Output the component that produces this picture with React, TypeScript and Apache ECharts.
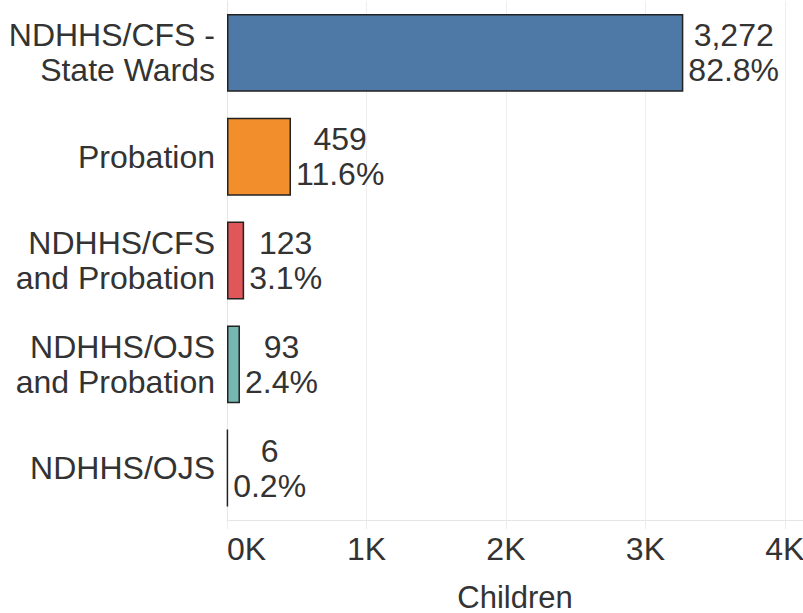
import React, { useEffect, useRef } from "react";
import * as echarts from "echarts";

const categories = [
  "NDHHS/CFS -\nState Wards",
  "Probation",
  "NDHHS/CFS\nand Probation",
  "NDHHS/OJS\nand Probation",
  "NDHHS/OJS",
];
const values = [3272, 459, 123, 93, 6];
const percents = ["82.8%", "11.6%", "3.1%", "2.4%", "0.2%"];
const barColors = ["#4e79a7", "#f28e2b", "#e15759", "#76b7b2", "#59a14f"];
const xTicks = [0, 1000, 2000, 3000, 4000];

const FONT = "Arial, 'Liberation Sans', sans-serif";
const TEXT = "#333333";
const FS = 32;

export default function App() {
  const ref = useRef<HTMLDivElement>(null);
  useEffect(() => {
    if (!ref.current) return;
    const chart = echarts.init(ref.current, undefined, {
      renderer: "svg",
      width: 803,
      height: 613,
    });
    chart.setOption({
      animation: false,
      backgroundColor: "#ffffff",
      textStyle: { fontFamily: FONT },
      grid: {
        left: 227,
        right: 0,
        top: 1,
        bottom: 93,
        containLabel: false,
        outerBoundsMode: "none",
      },
      xAxis: {
        type: "value",
        min: 0,
        max: 4130,
        interval: 1000,
        name: "Children",
        nameLocation: "middle",
        nameGap: 64,
        nameTextStyle: {
          fontSize: 31,
          lineHeight: 26,
          color: TEXT,
          fontFamily: FONT,
        },
        axisLine: { show: true, lineStyle: { color: "#e6e6e6", width: 1 } },
        axisTick: { show: true, length: 9, lineStyle: { color: "#ececec" } },
        splitLine: { show: true, lineStyle: { color: "#efefef", width: 1 } },
        axisLabel: {
          fontSize: FS,
          color: TEXT,
          fontFamily: FONT,
          margin: 13,
          alignMinLabel: "left",
          formatter: (v: number) =>
            xTicks.indexOf(v) >= 0 ? `${v / 1000}K` : "",
        },
      },
      yAxis: {
        type: "category",
        inverse: true,
        data: categories,
        axisLine: { show: true, lineStyle: { color: "#e6e6e6", width: 1 } },
        axisTick: { show: false },
        axisLabel: {
          fontSize: FS,
          lineHeight: 35,
          color: TEXT,
          fontFamily: FONT,
          margin: 12,
          align: "right",
        },
      },
      series: [
        {
          type: "bar",
          barCategoryGap: "25%",
          data: values.map((v, i) => ({
            value: v,
            itemStyle: { color: barColors[i] },
          })),
          itemStyle: { borderColor: "#222222", borderWidth: 1.5 },
          label: {
            show: true,
            position: "right",
            distance: 5,
            formatter: (p: any) =>
              `{a|${values[p.dataIndex].toLocaleString("en-US")}}\n{a|${percents[p.dataIndex]}}`,
            rich: {
              a: {
                align: "center",
                fontSize: FS,
                lineHeight: 35,
                color: TEXT,
                fontFamily: FONT,
              },
            },
          },
        },
      ],
    });
    return () => chart.dispose();
  }, []);
  return (
    <div
      ref={ref}
      style={{ position: "fixed", left: 0, top: 0, width: 803, height: 613 }}
    />
  );
}
